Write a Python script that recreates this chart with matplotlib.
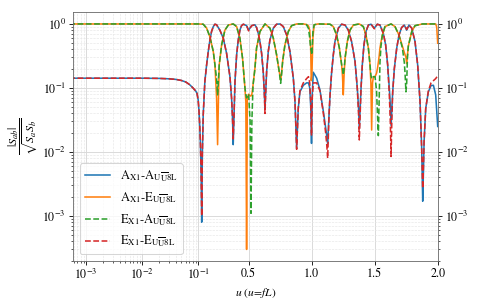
import numpy as np
import matplotlib
matplotlib.use('Agg')
import matplotlib.pyplot as plt
from matplotlib.ticker import FixedLocator, FixedFormatter

plt.rcParams['font.family'] = 'STIXGeneral'
plt.rcParams['mathtext.fontset'] = 'stix'
plt.rcParams['font.size'] = 11.5

# Data
# blue (A-A) and red (E-E) share one u grid
u_auto = [
    5e-4, 1e-3, 1e-2, 0.02, 0.03, 0.04, 0.05, 0.06, 0.07, 0.08, 0.09, 0.095, 0.1, 0.106, 0.112, 0.118, 0.123, 0.128,
    0.133, 0.14, 0.153, 0.167, 0.18, 0.193, 0.206, 0.22, 0.233, 0.246, 0.272, 0.299, 0.325, 0.352, 0.365, 0.372,
    0.378, 0.385, 0.392, 0.405, 0.418, 0.431, 0.444, 0.458, 0.484, 0.5, 0.524, 0.55, 0.563, 0.577, 0.59, 0.603,
    0.616, 0.624, 0.63, 0.636, 0.643, 0.656, 0.669, 0.696, 0.722, 0.749, 0.775, 0.802, 0.828, 0.855, 0.868, 0.881,
    0.894, 0.907, 0.934, 0.96, 0.975, 0.985, 0.993, 0.999, 1.005, 1.013, 1.04, 1.066, 1.093, 1.111, 1.12, 1.127,
    1.133, 1.138, 1.146, 1.159, 1.172, 1.185, 1.212, 1.238, 1.265, 1.291, 1.317, 1.344, 1.362, 1.372, 1.378, 1.385,
    1.392, 1.402, 1.415, 1.431, 1.45, 1.471, 1.497, 1.521, 1.542, 1.569, 1.587, 1.603, 1.616, 1.624, 1.63, 1.636,
    1.643, 1.656, 1.675, 1.693, 1.714, 1.735, 1.754, 1.772, 1.794, 1.82, 1.841, 1.86, 1.873, 1.881, 1.887, 1.892,
    1.905, 1.926, 1.947, 1.966, 1.984, 2.0]
coh_AA = [
    0.142, 0.142, 0.142, 0.141, 0.139, 0.136, 0.131, 0.124, 0.113, 0.101, 0.09, 0.083, 0.065, 0.045, 0.027, 0.013, 0.005, 0.0008,
    0.009, 0.038, 0.126, 0.23, 0.37, 0.56, 0.76, 0.91, 0.99, 0.97, 0.80, 0.60, 0.35, 0.15, 0.069, 0.035,
    0.013, 0.04, 0.126, 0.33, 0.56, 0.80, 0.94, 0.99, 0.94, 0.80, 0.94, 0.97, 0.88, 0.71, 0.53, 0.35,
    0.18, 0.09, 0.048, 0.09, 0.18, 0.37, 0.56, 0.86, 0.99, 1.0, 0.91, 0.67, 0.37, 0.14, 0.061, 0.0114,
    0.048, 0.087, 0.11, 0.12, 0.12, 0.10, 0.05, 0.0136, 0.08, 0.176, 0.142, 0.093, 0.043, 0.024, 0.018, 0.0136,
    0.025, 0.038, 0.078, 0.18, 0.33, 0.53, 0.86, 0.99, 0.96, 0.80, 0.53, 0.26, 0.10, 0.05, 0.023, 0.05,
    0.10, 0.23, 0.47, 0.76, 0.96, 0.99, 0.86, 0.99, 0.96, 0.71, 0.47, 0.23, 0.10, 0.055, 0.026, 0.045,
    0.087, 0.20, 0.42, 0.67, 0.88, 0.96, 0.80, 0.96, 0.86, 0.53, 0.23, 0.061, 0.0114, 0.0017, 0.005, 0.0145,
    0.048, 0.087, 0.109, 0.11, 0.078, 0.025]
coh_EE = [
    0.142, 0.142, 0.142, 0.141, 0.139, 0.136, 0.131, 0.124, 0.113, 0.101, 0.09, 0.083, 0.065, 0.045, 0.027, 0.013, 0.005, 0.001,
    0.009, 0.038, 0.126, 0.23, 0.37, 0.56, 0.76, 0.91, 0.99, 0.97, 0.80, 0.60, 0.35, 0.15, 0.069, 0.035,
    0.016, 0.04, 0.126, 0.33, 0.56, 0.80, 0.94, 0.99, 0.94, 0.78, 0.94, 0.97, 0.88, 0.71, 0.53, 0.35,
    0.18, 0.09, 0.04, 0.09, 0.18, 0.37, 0.56, 0.86, 0.99, 1.0, 0.91, 0.67, 0.37, 0.14, 0.061, 0.011,
    0.048, 0.09, 0.12, 0.14, 0.15, 0.12, 0.06, 0.018, 0.07, 0.12, 0.12, 0.09, 0.04, 0.02, 0.013, 0.008,
    0.02, 0.038, 0.078, 0.18, 0.33, 0.53, 0.86, 0.99, 0.96, 0.80, 0.53, 0.26, 0.10, 0.04, 0.0154, 0.04,
    0.10, 0.23, 0.47, 0.76, 0.96, 0.99, 0.84, 0.99, 0.96, 0.71, 0.47, 0.23, 0.08, 0.03, 0.0085, 0.03,
    0.087, 0.20, 0.42, 0.67, 0.88, 0.96, 0.82, 0.96, 0.86, 0.53, 0.23, 0.061, 0.011, 0.0027, 0.006, 0.0145,
    0.048, 0.09, 0.12, 0.13, 0.14, 0.155]

# orange (A-E) and green (E-A) share another u grid
u_cross = [
    5e-4, 1e-3, 1e-2, 0.1, 0.14, 0.167, 0.193, 0.22, 0.233, 0.246, 0.254, 0.261, 0.267, 0.286, 0.312, 0.339, 0.378,
    0.405, 0.431, 0.452, 0.471, 0.478, 0.484, 0.49, 0.50, 0.512, 0.519, 0.526, 0.535, 0.55, 0.563, 0.59, 0.63,
    0.669, 0.696, 0.722, 0.741, 0.748, 0.754, 0.76, 0.77, 0.788, 0.815, 0.841, 0.881, 0.934, 0.96,
    0.975, 0.985, 0.992, 0.997, 1.002, 1.01, 1.02, 1.05, 1.146, 1.172, 1.198, 1.22, 1.238, 1.245, 1.251, 1.258,
    1.265, 1.283, 1.304, 1.331, 1.378, 1.41, 1.431, 1.45, 1.463, 1.47, 1.476, 1.483, 1.49, 1.503, 1.515, 1.522,
    1.529, 1.536, 1.542, 1.55, 1.561, 1.582, 1.63, 1.661, 1.693, 1.72, 1.735, 1.741, 1.748, 1.754, 1.76, 1.767,
    1.794, 1.82, 1.88, 1.984, 1.992, 2.0]
coh_AE = [
    1.0, 1.0, 1.0, 1.0, 0.99, 0.86, 0.63, 0.37, 0.23, 0.069, 0.013, 0.07, 0.23, 0.47, 0.80, 0.96, 1.0,
    0.91, 0.60, 0.29, 0.10, 0.06, 0.0003, 0.07, 0.08, 0.075, 0.075, 0.08, 0.11, 0.20, 0.42, 0.76, 1.0,
    0.86, 0.60, 0.33, 0.19, 0.16, 0.134, 0.16, 0.26, 0.47, 0.76, 0.94, 1.0, 1.0, 0.98,
    0.93, 0.8, 0.45, 0.13, 0.16, 0.6, 0.97, 1.0, 0.99, 0.91, 0.67, 0.42, 0.23, 0.15, 0.078, 0.17,
    0.29, 0.53, 0.80, 0.96, 1.0, 0.91, 0.67, 0.42, 0.23, 0.12, 0.022, 0.12, 0.15, 0.15, 0.17, 0.2,
    0.25, 0.32, 0.42, 0.52, 0.67, 0.91, 1.0, 0.91, 0.67, 0.45, 0.36, 0.33, 0.3, 0.24, 0.33, 0.45,
    0.76, 0.94, 1.0, 1.0, 0.9, 0.5]
coh_EA = [
    1.0, 1.0, 1.0, 1.0, 0.99, 0.86, 0.63, 0.37, 0.23, 0.14, 0.078, 0.14, 0.23, 0.47, 0.80, 0.96, 1.0,
    0.91, 0.60, 0.29, 0.10, 0.08, 0.07, 0.075, 0.08, 0.03, 0.0011, 0.03, 0.11, 0.20, 0.42, 0.76, 1.0,
    0.86, 0.60, 0.33, 0.19, 0.15, 0.118, 0.15, 0.26, 0.47, 0.76, 0.94, 1.0, 1.0, 0.97,
    0.85, 0.6, 0.42, 0.38, 0.33, 0.75, 0.97, 1.0, 0.99, 0.91, 0.67, 0.42, 0.23, 0.2, 0.16, 0.2,
    0.29, 0.53, 0.80, 0.96, 1.0, 0.91, 0.67, 0.42, 0.23, 0.16, 0.14, 0.14, 0.15, 0.15, 0.09, 0.04,
    0.018, 0.07, 0.25, 0.45, 0.67, 0.91, 1.0, 0.91, 0.67, 0.42, 0.25, 0.17, 0.087, 0.12, 0.3, 0.45,
    0.76, 0.94, 1.0, 1.0, 0.99, 0.97]

labels = [r'A$_{\rm X1}$-A$_{\rm U\overline{U}8L}$', r'A$_{\rm X1}$-E$_{\rm U\overline{U}8L}$',
          r'E$_{\rm X1}$-A$_{\rm U\overline{U}8L}$', r'E$_{\rm X1}$-E$_{\rm U\overline{U}8L}$']
xticks = [1e-3, 1e-2, 1e-1, 0.5, 1.0, 1.5, 2.0]
xticklabels = [r'$10^{-3}$', r'$10^{-2}$', r'$10^{-1}$', '0.5', '1.0', '1.5', '2.0']


# log axis below u=0.1, linear above
def fwd(x):
    x = np.asarray(x, dtype=float)
    out = np.empty_like(x)
    lo = x < 0.1
    out[lo] = np.log10(np.clip(x[lo], 1e-12, None))
    out[~lo] = -1 + 2.25 * (x[~lo] - 0.1)
    return out


def inv(y):
    y = np.asarray(y, dtype=float)
    out = np.empty_like(y)
    lo = y < -1
    out[lo] = 10.0 ** y[lo]
    out[~lo] = 0.1 + (y[~lo] + 1) / 2.25
    return out


fig = plt.figure(figsize=(478 / 75, 306 / 75), dpi=75)
ax = fig.add_axes([0.1533, 0.148, 0.7624, 0.8118])

ax.plot(u_auto, coh_AA, color='tab:blue', lw=1.5, label=labels[0])
ax.plot(u_cross, coh_AE, color='tab:orange', lw=1.5, label=labels[1])
ax.plot(u_cross, coh_EA, color='tab:green', lw=1.5, ls='--', label=labels[2])
ax.plot(u_auto, coh_EE, color='tab:red', lw=1.5, ls='--', label=labels[3])

ax.set_xscale('function', functions=(fwd, inv))
ax.set_yscale('log')
ax.set_xlim(5.9e-4, 2.0)
ax.set_ylim(2.0e-4, 1.52)

minors = [k * 10.0 ** e for e in (-4, -3, -2) for k in range(2, 10)]
ax.xaxis.set_major_locator(FixedLocator(xticks))
ax.xaxis.set_major_formatter(FixedFormatter(xticklabels))
ax.xaxis.set_minor_locator(FixedLocator(minors))

ax.tick_params(which='both', right=True, labelright=True)
ax.grid(True, which='major', color='#d9d9d9', lw=0.9)
ax.grid(True, which='minor', color='#e6e6e6', lw=0.6, ls='--')
ax.set_axisbelow(True)
for s in ax.spines.values():
    s.set_color('0.4')

ax.set_xlabel(r'$u$ $(u\!=\!fL)$', fontsize=11)
ax.set_ylabel(r'$\dfrac{|S_{ab}|}{\sqrt{S_a S_b}}$', fontsize=11.5, labelpad=2)
ax.legend(loc='lower left', fontsize=12)

fig.savefig('out.png', dpi=75)
